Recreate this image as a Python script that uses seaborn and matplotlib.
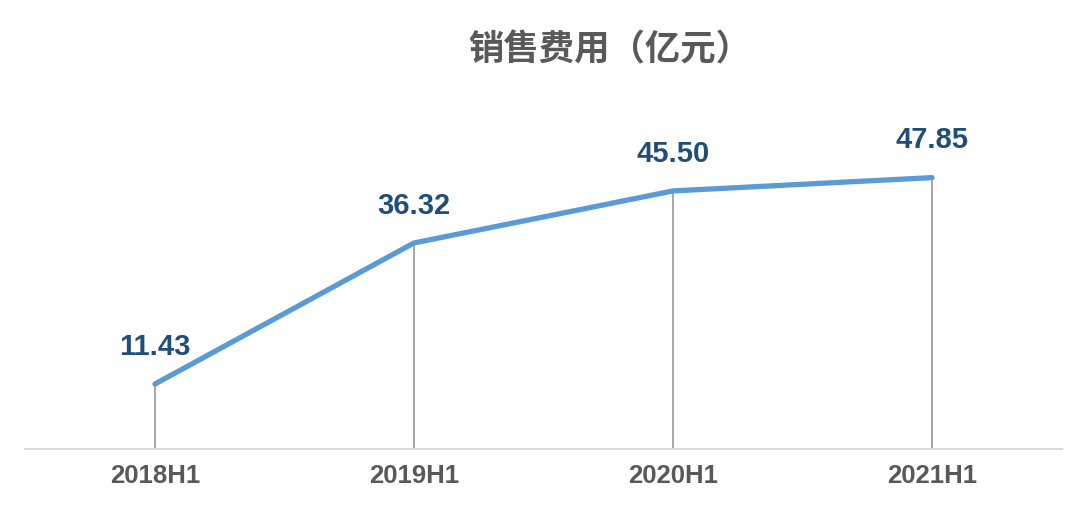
import pandas as pd
import matplotlib.pyplot as plt
import seaborn as sns

# DATA
periods = ['2018H1', '2019H1', '2020H1', '2021H1']
sales_expense = [11.43, 36.32, 45.50, 47.85]
title_text = '销售费用（亿元）'

df = pd.DataFrame({'period': periods, 'value': sales_expense})
df['pos'] = range(len(df))

# STYLE
sns.set_theme(style="white")
plt.rcParams['font.family'] = ['Liberation Sans', 'Noto Sans CJK SC', 'DejaVu Sans']

fig = plt.figure(figsize=(10.8, 5.09), dpi=100)
ax = fig.add_axes([0.0236, 0.1184, 0.9593, 0.6679])

# drop lines from each point to the axis
ax.vlines(df['pos'], 0, df['value'], color='#A6A6A6', linewidth=1.4, zorder=1)

sns.lineplot(data=df, x='pos', y='value', ax=ax, color='#5B9BD5',
             linewidth=3.8, solid_capstyle='round', zorder=2)

# data labels
for x, v in zip(df['pos'], df['value']):
    ax.annotate(f'{v:.2f}', (x, v), xytext=(0, 21), textcoords='offset points',
                ha='center', va='baseline', fontsize=21, fontweight='bold',
                color='#1F4E79')

ax.set_xlim(-0.5, len(df) - 0.5)
ax.set_ylim(0, 60)
ax.set_xticks(df['pos'])
ax.set_xticklabels(df['period'], fontsize=18.5, fontweight='bold', color='#595959')
ax.tick_params(axis='x', length=0, pad=11)
ax.set_yticks([])
ax.set_xlabel('')
ax.set_ylabel('')

for side in ['top', 'right', 'left']:
    ax.spines[side].set_visible(False)
ax.spines['bottom'].set_color('#D9D9D9')
ax.spines['bottom'].set_linewidth(1.5)

fig.text(0.565, 0.902, title_text, ha='center', va='center', fontsize=25.5,
         fontweight='bold', color='#595959',
         family=['Noto Sans CJK SC', 'DejaVu Sans'])

plt.savefig('out.png', dpi=100)
plt.close()
